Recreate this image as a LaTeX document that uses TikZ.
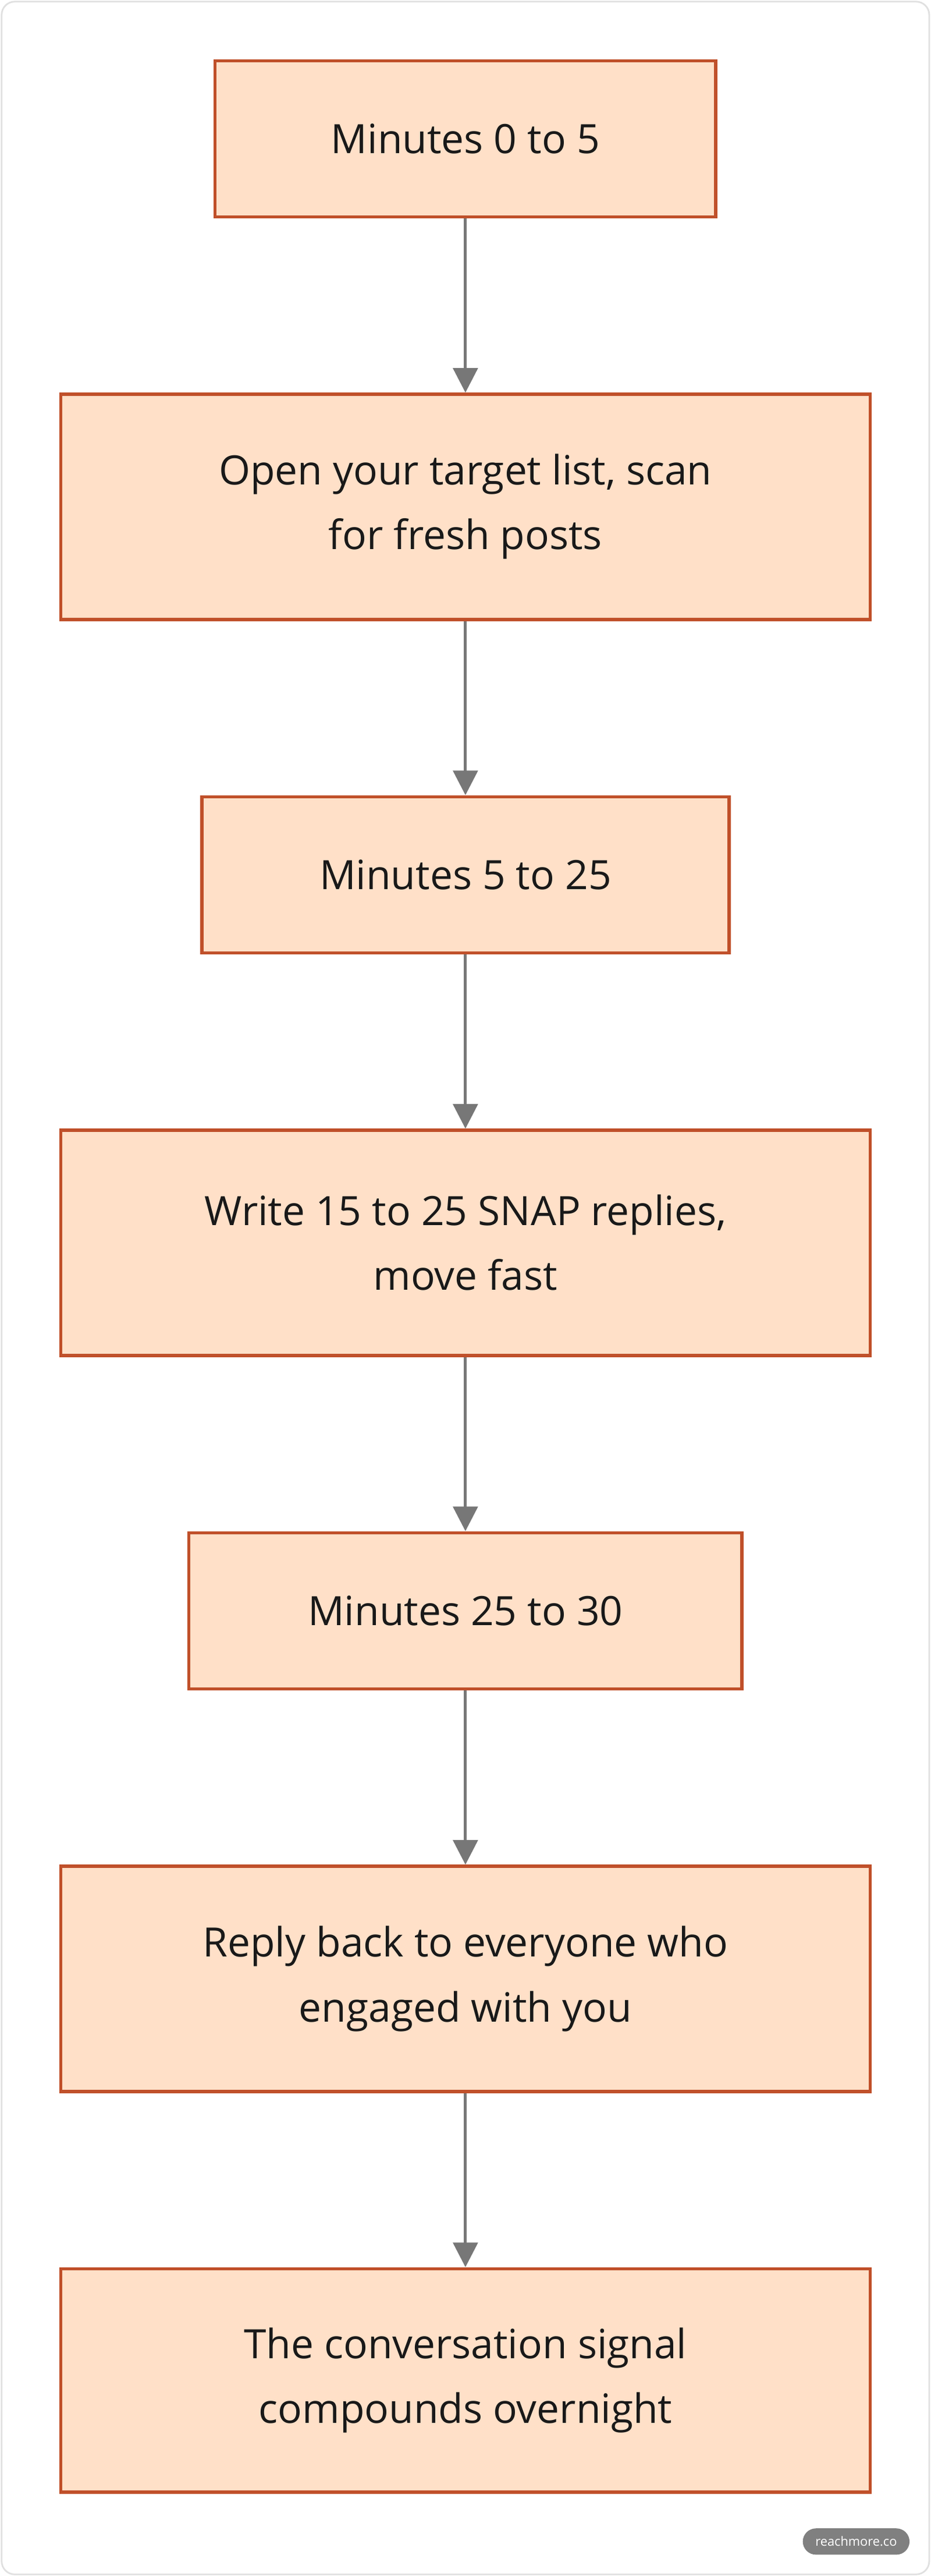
\documentclass[tikz,border=0pt]{standalone}
\usepackage{fontspec}
\setmainfont{Open Sans}
\usetikzlibrary{arrows.meta}
\definecolor{boxfill}{HTML}{FFE0C8}
\definecolor{boxline}{HTML}{C0502A}
\definecolor{arrowgray}{HTML}{777777}
\tikzset{
  stage/.style={draw=boxline, fill=boxfill, line width=0.1cm, align=center,
    font=\fontsize{35}{56}\selectfont, text=black!90, inner sep=0pt},
  flow/.style={draw=arrowgray, line width=0.09cm, -{Triangle[length=0.75cm,width=0.75cm]}},
}
\begin{document}
\begin{tikzpicture}[x=0.05cm,y=-0.05cm]
        \useasboundingbox (0,0) rectangle (567,1568);
        \draw[black!12, line width=0.05cm, rounded corners=0.4cm] (1,1) rectangle (566,1567);

        % Stages
        \node[stage, minimum width=15.25cm, minimum height=4.75cm] (m0) at (283.5,84.5) {Minutes 0 to 5};
        \node[stage, minimum width=24.65cm, minimum height=6.85cm] (scan) at (283.5,308.5) {Open your target list, scan\\for fresh posts};
        \node[stage, minimum width=16.05cm, minimum height=4.75cm] (m5) at (283.5,532.5) {Minutes 5 to 25};
        \node[stage, minimum width=24.65cm, minimum height=6.85cm] (write) at (283.5,756.5) {Write 15 to 25 SNAP replies,\\move fast};
        \node[stage, minimum width=16.85cm, minimum height=4.75cm] (m25) at (283.5,980.5) {Minutes 25 to 30};
        \node[stage, minimum width=24.65cm, minimum height=6.85cm] (reply) at (283.5,1204.5) {Reply back to everyone who\\engaged with you};
        \node[stage, minimum width=24.65cm, minimum height=6.8cm] (signal) at (283.5,1449) {The conversation signal\\compounds overnight};

        % Links
        \draw[flow] (m0) -- (scan);
        \draw[flow] (scan) -- (m5);
        \draw[flow] (m5) -- (write);
        \draw[flow] (write) -- (m25);
        \draw[flow] (m25) -- (reply);
        \draw[flow] (reply) -- (signal);

        % Watermark
        \node[fill=black!50, text=white, rounded corners=0.4cm, minimum width=3.25cm, minimum height=0.8cm,
          inner sep=0pt, font=\fontsize{11}{13}\selectfont] (mark) at (521.5,1547) {reachmore.co};
\end{tikzpicture}
\end{document}
